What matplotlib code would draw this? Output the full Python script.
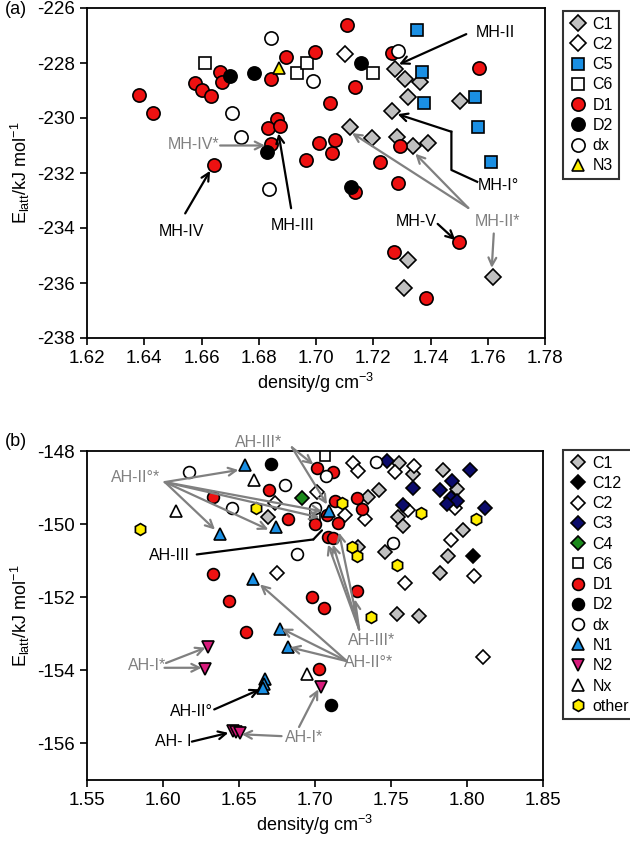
import numpy as np
import matplotlib.pyplot as plt
from matplotlib.lines import Line2D

plt.rcParams['font.family'] = ['Liberation Sans', 'DejaVu Sans']
plt.rcParams['mathtext.default'] = 'regular'
plt.rcParams['axes.unicode_minus'] = False

# ---------------- panel (a) data ----------------
a_C1 = [(1.7277, -228.23), (1.7312, -228.59), (1.7362, -228.68), (1.7323, -229.25),
        (1.7504, -229.37), (1.7265, -229.73), (1.7120, -230.32), (1.7195, -230.74),
        (1.7282, -230.68), (1.7338, -231.00), (1.7393, -230.90), (1.7323, -235.16),
        (1.7306, -236.19), (1.7618, -235.77)]
a_C2 = [(1.7102, -227.67)]
a_C5 = [(1.7353, -226.80), (1.7370, -228.31), (1.7376, -229.47), (1.7554, -229.25),
        (1.7566, -230.34), (1.7611, -231.60)]
a_C6 = [(1.6613, -228.00), (1.6933, -228.35), (1.6968, -227.99), (1.7198, -228.35)]
a_D1 = [(1.6380, -229.16), (1.6430, -229.80), (1.6578, -228.74), (1.6600, -228.98),
        (1.6632, -229.20), (1.6663, -228.34), (1.6671, -228.68), (1.6843, -228.58),
        (1.6895, -227.79), (1.6997, -227.61), (1.7050, -229.47), (1.6863, -230.04),
        (1.6834, -230.35), (1.6875, -230.29), (1.6843, -230.95), (1.6643, -231.70),
        (1.6966, -231.53), (1.7012, -230.92), (1.7056, -231.28), (1.7067, -230.80),
        (1.7108, -226.60), (1.7265, -227.65), (1.7137, -228.89), (1.7292, -231.00),
        (1.7222, -231.61), (1.7286, -232.35), (1.7135, -232.70), (1.7498, -234.52),
        (1.7273, -234.88), (1.7385, -236.56), (1.7571, -228.19)]
a_D2 = [(1.6700, -228.47), (1.6785, -228.35), (1.6828, -231.25), (1.7157, -227.99),
        (1.7122, -232.50)]
a_dx = [(1.6842, -227.08), (1.6991, -228.64), (1.6706, -229.81), (1.6738, -230.70),
        (1.6837, -232.59), (1.7285, -227.56)]
a_N3 = [(1.6872, -228.19)]

# ---------------- panel (b) data ----------------
b_C1 = [(1.7555, -148.34), (1.7643, -148.62), (1.7840, -148.52), (1.7932, -149.05),
        (1.7423, -149.07), (1.7350, -149.25), (1.7548, -149.80), (1.7576, -150.04),
        (1.7976, -150.17), (1.7877, -150.88), (1.7822, -151.35), (1.7460, -150.77),
        (1.7283, -150.63), (1.7541, -152.47), (1.7686, -152.52), (1.6693, -149.80)]
b_C12 = [(1.8037, -150.88)]
b_C2 = [(1.7248, -148.32), (1.7285, -148.55), (1.7651, -148.40), (1.7526, -148.58),
        (1.7921, -149.55), (1.7614, -149.62), (1.7893, -150.44), (1.8048, -151.42),
        (1.7592, -151.60), (1.8103, -153.64), (1.6737, -149.42), (1.6752, -151.33),
        (1.7011, -149.13), (1.7197, -149.74), (1.7329, -149.87)]
b_C3 = [(1.7476, -148.28), (1.8020, -148.51), (1.7899, -148.83), (1.7822, -149.07),
        (1.7892, -149.28), (1.7932, -149.37), (1.7866, -149.46), (1.8118, -149.55),
        (1.7643, -149.01), (1.7576, -149.49)]
b_C4 = [(1.6916, -149.28)]
b_C6 = [(1.7066, -148.14), (1.7000, -149.75)]
b_D1 = [(1.6331, -149.25), (1.6697, -149.08), (1.6824, -149.86), (1.6331, -151.36),
        (1.6434, -152.11), (1.6978, -151.99), (1.7059, -152.29), (1.7015, -148.46),
        (1.7116, -148.58), (1.7132, -149.37), (1.7274, -149.28), (1.7000, -150.01),
        (1.7081, -149.74), (1.7153, -149.98), (1.7088, -150.35), (1.7307, -149.58),
        (1.7278, -151.83), (1.6546, -152.95), (1.7026, -153.96), (1.7118, -150.38)]
b_D2 = [(1.6710, -148.35), (1.7103, -154.96)]
b_dx = [(1.6173, -148.57), (1.6803, -148.92), (1.6452, -149.55), (1.6884, -150.81),
        (1.7072, -148.69), (1.7000, -149.55), (1.7401, -148.31), (1.7511, -150.51)]
b_N1 = [(1.6540, -148.37), (1.6743, -150.07), (1.6375, -150.27), (1.6594, -151.51),
        (1.7094, -149.65), (1.6770, -152.86), (1.6824, -153.37), (1.6671, -154.25),
        (1.6666, -154.38), (1.6660, -154.48)]
b_N2 = [(1.6294, -153.37), (1.6276, -153.96), (1.7037, -154.45), (1.6459, -155.66),
        (1.6483, -155.68), (1.6507, -155.71)]
b_Nx = [(1.6600, -148.78), (1.6086, -149.65), (1.6949, -154.09)]
b_other = [(1.6610, -149.55), (1.5849, -150.13), (1.7176, -149.42), (1.7695, -149.69),
           (1.8059, -149.87), (1.7538, -151.13), (1.7241, -150.63), (1.7274, -150.86),
           (1.7366, -152.54)]

GRAY = '#c0c0c0'
BLUE = '#1a8fe3'
RED = '#ee1111'
NAVY = '#0b0b6b'
GREEN = '#1b8a1b'
MAG = '#d81b7c'
YEL = '#ffee00'
ARW = '#808080'

# name, data, marker, face, size
series_a = [('C1', a_C1, 'D', GRAY, 8.5), ('C2', a_C2, 'D', 'white', 8.5),
            ('C5', a_C5, 's', BLUE, 8), ('C6', a_C6, 's', 'white', 8),
            ('D1', a_D1, 'o', RED, 9.5), ('D2', a_D2, 'o', 'black', 9.5),
            ('dx', a_dx, 'o', 'white', 9.5), ('N3', a_N3, '^', YEL, 9)]
series_b = [('C1', b_C1, 'D', GRAY, 7.5), ('C12', b_C12, 'D', 'black', 7.5),
            ('C2', b_C2, 'D', 'white', 7.5), ('C3', b_C3, 'D', NAVY, 7.5),
            ('C4', b_C4, 'D', GREEN, 7.5), ('C6', b_C6, 's', 'white', 7.5),
            ('D1', b_D1, 'o', RED, 8.5), ('D2', b_D2, 'o', 'black', 8.5),
            ('dx', b_dx, 'o', 'white', 8.5), ('N1', b_N1, '^', BLUE, 8.5),
            ('N2', b_N2, 'v', MAG, 8.5), ('Nx', b_Nx, '^', 'white', 8.5),
            ('other', b_other, 'h', YEL, 8.5)]

fig = plt.figure(figsize=(6.3, 8.44), dpi=100)
ax1 = fig.add_axes([87 / 630, 1 - 338 / 844, 458 / 630, 330 / 844])
ax2 = fig.add_axes([87 / 630, 1 - 780 / 844, 456 / 630, 329 / 844])


def draw(ax, series):
    handles = []
    for name, pts, mk, fc, ms in series:
        pts = np.array(pts)
        ax.plot(pts[:, 0], pts[:, 1], mk, ms=ms, mfc=fc, mec='black', mew=1.2,
                zorder=3)
        handles.append(Line2D([], [], ls='', marker=mk, ms=ms, mfc=fc,
                              mec='black', mew=1.2, label=name))
    return handles


def arrow(ax, start, end, color, head=True):
    ax.annotate('', xy=end, xytext=start,
                arrowprops=dict(arrowstyle='->' if head else '-', color=color,
                                lw=1.6, mutation_scale=14, shrinkA=0, shrinkB=0),
                zorder=4, annotation_clip=False)


def label(ax, xy, text, color):
    ax.text(xy[0], xy[1], text, color=color, fontsize=11.5, ha='center',
            va='center', zorder=5, clip_on=False)


def style(ax, xlim, ylim, xt, yt):
    ax.set_xlim(*xlim)
    ax.set_ylim(*ylim)
    ax.set_xticks(xt)
    ax.set_yticks(yt)
    ax.tick_params(direction='out', length=5, width=1.2, labelsize=13.5,
                   top=False, right=False)
    for s in ax.spines.values():
        s.set_linewidth(1.3)
    ax.set_xlabel('density/g cm$^{-3}$', fontsize=13, labelpad=3)
    ax.set_ylabel('E$_{latt}$/kJ mol$^{-1}$', fontsize=13, labelpad=4)


# ---------------- panel (a) ----------------
h1 = draw(ax1, series_a)
style(ax1, (1.62, 1.78), (-238, -226), np.arange(1.62, 1.781, 0.02),
      np.arange(-238, -225, 2))
ax1.set_xticklabels(['%.2f' % v for v in np.arange(1.62, 1.781, 0.02)])

label(ax1, (1.7627, -226.9), 'MH-II', 'black')
arrow(ax1, (1.7525, -226.95), (1.7290, -228.05), 'black')
label(ax1, (1.7637, -232.45), 'MH-I°', 'black')
ax1.plot([1.7563, 1.7473, 1.7473], [-232.32, -231.89, -230.50], color='black',
         lw=1.6, zorder=4)
arrow(ax1, (1.7473, -230.50), (1.7285, -229.86), 'black')
label(ax1, (1.7633, -233.75), 'MH-II*', ARW)
arrow(ax1, (1.7532, -233.27), (1.7126, -230.55), ARW)
arrow(ax1, (1.7532, -233.27), (1.7347, -231.30), ARW)
arrow(ax1, (1.7621, -234.20), (1.7614, -235.45), ARW)
label(ax1, (1.7350, -233.78), 'MH-V', 'black')
arrow(ax1, (1.7425, -233.85), (1.7487, -234.44), 'black')
label(ax1, (1.6574, -230.95), 'MH-IV*', ARW)
arrow(ax1, (1.6665, -231.00), (1.6822, -231.00), ARW)
label(ax1, (1.6529, -234.13), 'MH-IV', 'black')
arrow(ax1, (1.6543, -233.47), (1.6630, -231.92), 'black')
label(ax1, (1.6920, -233.90), 'MH-III', 'black')
arrow(ax1, (1.6913, -233.28), (1.6869, -230.56), 'black')

# ---------------- panel (b) ----------------
h2 = draw(ax2, series_b)
style(ax2, (1.55, 1.85), (-157, -148), np.arange(1.55, 1.851, 0.05),
      np.arange(-156, -147, 2))
ax2.set_xticklabels(['%.2f' % v for v in np.arange(1.55, 1.851, 0.05)])

label(ax2, (1.5819, -148.72), 'AH-II°*', ARW)
o = (1.6012, -148.85)
for end in [(1.6496, -148.52), (1.6342, -150.15), (1.6693, -150.15),
            (1.7046, -149.65), (1.7030, -149.82)]:
    arrow(ax2, o, end, ARW)
label(ax2, (1.6632, -147.76), 'AH-III*', ARW)
o = (1.6848, -147.90)
for end in [(1.6989, -148.37), (1.7079, -149.46)]:
    arrow(ax2, o, end, ARW)
label(ax2, (1.6040, -150.86), 'AH-III', 'black')
arrow(ax2, (1.6222, -150.83), (1.6989, -150.42), 'black', head=False)
arrow(ax2, (1.6989, -150.42), (1.7046, -150.17), 'black', head=False)
label(ax2, (1.7375, -153.18), 'AH-III*', ARW)
o = (1.7290, -152.88)
for end in [(1.7086, -150.56), (1.7118, -150.56), (1.7158, -150.23),
            (1.7263, -152.06)]:
    arrow(ax2, o, end, ARW)
label(ax2, (1.7350, -153.78), 'AH-II°*', ARW)
o = (1.7210, -153.75)
for end in [(1.6781, -152.86), (1.6836, -153.37), (1.6638, -151.65)]:
    arrow(ax2, o, end, ARW)
label(ax2, (1.5893, -153.87), 'AH-I*', ARW)
arrow(ax2, (1.6020, -153.80), (1.6280, -153.38), ARW)
arrow(ax2, (1.6010, -153.93), (1.6254, -153.93), ARW)
label(ax2, (1.6189, -155.13), 'AH-II°', 'black')
arrow(ax2, (1.6337, -155.07), (1.6638, -154.52), 'black')
label(ax2, (1.6069, -155.96), 'AH- I', 'black')
arrow(ax2, (1.6190, -155.95), (1.6430, -155.71), 'black')
label(ax2, (1.6925, -155.84), 'AH-I*', ARW)
arrow(ax2, (1.6780, -155.80), (1.6518, -155.75), ARW)
arrow(ax2, (1.6895, -155.55), (1.7022, -154.52), ARW)

fig.text(0.008, 1 - 10 / 844, '(a)', fontsize=13, va='center')
fig.text(0.008, 1 - 442 / 844, '(b)', fontsize=13, va='center')

for ax, h, top in [(ax1, h1, 11), (ax2, h2, 450)]:
    leg = fig.legend(handles=h, loc='upper left',
                     bbox_to_anchor=(563 / 630, 1 - top / 844), borderaxespad=0,
                     fontsize=11.5, frameon=True, fancybox=False,
                     handletextpad=0.3, handlelength=1.2, borderpad=0.35,
                     labelspacing=0.33)
    leg.get_frame().set_edgecolor('black')
    leg.get_frame().set_linewidth(1.5)

fig.savefig('out.png', dpi=100)
